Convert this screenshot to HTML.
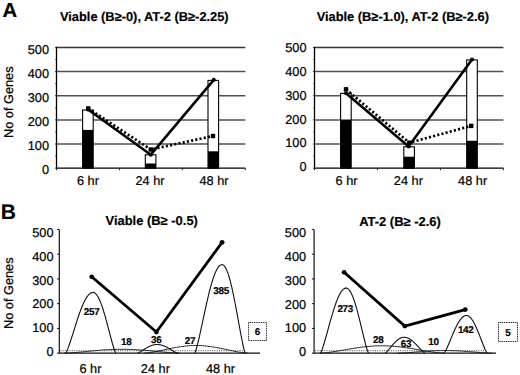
<!DOCTYPE html>
<html><head><meta charset="utf-8"><style>
html,body{margin:0;padding:0;background:#fff;}
svg{display:block;font-family:"Liberation Sans",sans-serif;}
text{fill:#000;stroke:#000;stroke-width:0.22px;text-rendering:geometricPrecision;}
text[font-weight="bold"]{stroke-width:0.18px;}
</style></head><body>
<svg width="520" height="375" viewBox="0 0 520 375">
<rect width="520" height="375" fill="#fff"/>
<line x1="56.50" y1="144.04" x2="245.30" y2="144.04" stroke="#505050" stroke-width="1.5" />
<line x1="56.50" y1="119.88" x2="245.30" y2="119.88" stroke="#505050" stroke-width="1.5" />
<line x1="56.50" y1="95.72" x2="245.30" y2="95.72" stroke="#505050" stroke-width="1.5" />
<line x1="56.50" y1="71.56" x2="245.30" y2="71.56" stroke="#505050" stroke-width="1.5" />
<line x1="56.50" y1="47.40" x2="245.30" y2="47.40" stroke="#333" stroke-width="1.5" />
<text x="49.00" y="173.80" font-size="12.75" text-anchor="end" font-weight="normal" >0</text>
<text x="49.00" y="149.92" font-size="12.75" text-anchor="end" font-weight="normal" >100</text>
<text x="49.00" y="126.04" font-size="12.75" text-anchor="end" font-weight="normal" >200</text>
<text x="49.00" y="102.16" font-size="12.75" text-anchor="end" font-weight="normal" >300</text>
<text x="49.00" y="78.28" font-size="12.75" text-anchor="end" font-weight="normal" >400</text>
<text x="49.00" y="54.40" font-size="12.75" text-anchor="end" font-weight="normal" >500</text>
<line x1="54.90" y1="168.20" x2="56.50" y2="168.20" stroke="#222" stroke-width="0.8" />
<line x1="55.30" y1="156.12" x2="56.50" y2="156.12" stroke="#222" stroke-width="0.8" />
<line x1="54.90" y1="144.04" x2="56.50" y2="144.04" stroke="#222" stroke-width="0.8" />
<line x1="55.30" y1="131.96" x2="56.50" y2="131.96" stroke="#222" stroke-width="0.8" />
<line x1="54.90" y1="119.88" x2="56.50" y2="119.88" stroke="#222" stroke-width="0.8" />
<line x1="55.30" y1="107.80" x2="56.50" y2="107.80" stroke="#222" stroke-width="0.8" />
<line x1="54.90" y1="95.72" x2="56.50" y2="95.72" stroke="#222" stroke-width="0.8" />
<line x1="55.30" y1="83.64" x2="56.50" y2="83.64" stroke="#222" stroke-width="0.8" />
<line x1="54.90" y1="71.56" x2="56.50" y2="71.56" stroke="#222" stroke-width="0.8" />
<line x1="55.30" y1="59.48" x2="56.50" y2="59.48" stroke="#222" stroke-width="0.8" />
<line x1="54.90" y1="47.40" x2="56.50" y2="47.40" stroke="#222" stroke-width="0.8" />
<rect x="82.60" y="110.00" width="10.60" height="58.20" fill="#fff" stroke="#000" stroke-width="1.1" />
<rect x="82.70" y="129.90" width="10.40" height="38.30" fill="#000" stroke="none" stroke-width="1" />
<rect x="145.30" y="154.80" width="10.60" height="13.40" fill="#fff" stroke="#000" stroke-width="1.1" />
<rect x="145.40" y="163.50" width="10.40" height="4.70" fill="#000" stroke="none" stroke-width="1" />
<rect x="208.00" y="80.40" width="10.60" height="87.80" fill="#fff" stroke="#000" stroke-width="1.1" />
<rect x="208.10" y="151.30" width="10.40" height="16.90" fill="#000" stroke="none" stroke-width="1" />
<line x1="56.50" y1="46.80" x2="56.50" y2="168.80" stroke="#000" stroke-width="1.3" />
<line x1="56.50" y1="168.20" x2="245.30" y2="168.20" stroke="#000" stroke-width="1.3" />
<line x1="56.50" y1="168.20" x2="56.50" y2="170.20" stroke="#222" stroke-width="1" />
<line x1="119.43" y1="168.20" x2="119.43" y2="170.20" stroke="#222" stroke-width="1" />
<line x1="182.37" y1="168.20" x2="182.37" y2="170.20" stroke="#222" stroke-width="1" />
<line x1="245.30" y1="168.20" x2="245.30" y2="170.20" stroke="#222" stroke-width="1" />
<polyline points="88.20,108.40 150.80,149.50 213.00,136.00" fill="none" stroke="#000" stroke-width="2.7" stroke-dasharray="2.1 2.2"/>
<rect x="86.00" y="106.20" width="4.40" height="4.40" fill="#000" stroke="none" stroke-width="1" />
<rect x="148.60" y="147.30" width="4.40" height="4.40" fill="#000" stroke="none" stroke-width="1" />
<rect x="210.80" y="133.80" width="4.40" height="4.40" fill="#000" stroke="none" stroke-width="1" />
<polyline points="88.00,109.50 150.80,154.70 213.80,79.80" fill="none" stroke="#000" stroke-width="2.6" stroke-linejoin="round" stroke-linecap="round"/>
<circle cx="88" cy="109.5" r="2.0" fill="#000"/>
<circle cx="150.8" cy="154.7" r="2.0" fill="#000"/>
<circle cx="213.8" cy="79.8" r="2.0" fill="#000"/>
<text x="87.90" y="184.50" font-size="12.75" text-anchor="middle" font-weight="normal" >6 hr</text>
<text x="150.00" y="184.50" font-size="12.75" text-anchor="middle" font-weight="normal" >24 hr</text>
<text x="214.00" y="184.50" font-size="12.75" text-anchor="middle" font-weight="normal" >48 hr</text>
<line x1="314.50" y1="144.04" x2="503.40" y2="144.04" stroke="#505050" stroke-width="1.5" />
<line x1="314.50" y1="119.88" x2="503.40" y2="119.88" stroke="#505050" stroke-width="1.5" />
<line x1="314.50" y1="95.72" x2="503.40" y2="95.72" stroke="#505050" stroke-width="1.5" />
<line x1="314.50" y1="71.56" x2="503.40" y2="71.56" stroke="#505050" stroke-width="1.5" />
<line x1="314.50" y1="47.40" x2="503.40" y2="47.40" stroke="#333" stroke-width="1.5" />
<text x="306.50" y="171.30" font-size="12.75" text-anchor="end" font-weight="normal" >0</text>
<text x="306.50" y="147.46" font-size="12.75" text-anchor="end" font-weight="normal" >100</text>
<text x="306.50" y="123.62" font-size="12.75" text-anchor="end" font-weight="normal" >200</text>
<text x="306.50" y="99.78" font-size="12.75" text-anchor="end" font-weight="normal" >300</text>
<text x="306.50" y="75.94" font-size="12.75" text-anchor="end" font-weight="normal" >400</text>
<text x="306.50" y="52.10" font-size="12.75" text-anchor="end" font-weight="normal" >500</text>
<line x1="312.90" y1="168.20" x2="314.50" y2="168.20" stroke="#222" stroke-width="0.8" />
<line x1="313.30" y1="156.12" x2="314.50" y2="156.12" stroke="#222" stroke-width="0.8" />
<line x1="312.90" y1="144.04" x2="314.50" y2="144.04" stroke="#222" stroke-width="0.8" />
<line x1="313.30" y1="131.96" x2="314.50" y2="131.96" stroke="#222" stroke-width="0.8" />
<line x1="312.90" y1="119.88" x2="314.50" y2="119.88" stroke="#222" stroke-width="0.8" />
<line x1="313.30" y1="107.80" x2="314.50" y2="107.80" stroke="#222" stroke-width="0.8" />
<line x1="312.90" y1="95.72" x2="314.50" y2="95.72" stroke="#222" stroke-width="0.8" />
<line x1="313.30" y1="83.64" x2="314.50" y2="83.64" stroke="#222" stroke-width="0.8" />
<line x1="312.90" y1="71.56" x2="314.50" y2="71.56" stroke="#222" stroke-width="0.8" />
<line x1="313.30" y1="59.48" x2="314.50" y2="59.48" stroke="#222" stroke-width="0.8" />
<line x1="312.90" y1="47.40" x2="314.50" y2="47.40" stroke="#222" stroke-width="0.8" />
<rect x="340.60" y="93.40" width="10.60" height="74.80" fill="#fff" stroke="#000" stroke-width="1.1" />
<rect x="340.70" y="119.50" width="10.40" height="48.70" fill="#000" stroke="none" stroke-width="1" />
<rect x="403.80" y="146.80" width="10.60" height="21.40" fill="#fff" stroke="#000" stroke-width="1.1" />
<rect x="403.90" y="156.70" width="10.40" height="11.50" fill="#000" stroke="none" stroke-width="1" />
<rect x="466.70" y="59.90" width="10.60" height="108.30" fill="#fff" stroke="#000" stroke-width="1.1" />
<rect x="466.80" y="140.80" width="10.40" height="27.40" fill="#000" stroke="none" stroke-width="1" />
<line x1="314.50" y1="46.80" x2="314.50" y2="168.80" stroke="#000" stroke-width="1.3" />
<line x1="314.50" y1="168.20" x2="503.40" y2="168.20" stroke="#000" stroke-width="1.3" />
<line x1="314.50" y1="168.20" x2="314.50" y2="170.20" stroke="#222" stroke-width="1" />
<line x1="377.47" y1="168.20" x2="377.47" y2="170.20" stroke="#222" stroke-width="1" />
<line x1="440.43" y1="168.20" x2="440.43" y2="170.20" stroke="#222" stroke-width="1" />
<line x1="503.40" y1="168.20" x2="503.40" y2="170.20" stroke="#222" stroke-width="1" />
<polyline points="346.00,89.30 409.30,142.70 471.20,125.90" fill="none" stroke="#000" stroke-width="2.7" stroke-dasharray="2.1 2.2"/>
<rect x="343.80" y="87.10" width="4.40" height="4.40" fill="#000" stroke="none" stroke-width="1" />
<rect x="407.10" y="140.50" width="4.40" height="4.40" fill="#000" stroke="none" stroke-width="1" />
<rect x="469.00" y="123.70" width="4.40" height="4.40" fill="#000" stroke="none" stroke-width="1" />
<polyline points="346.00,93.30 408.60,146.40 472.00,59.50" fill="none" stroke="#000" stroke-width="2.6" stroke-linejoin="round" stroke-linecap="round"/>
<circle cx="346" cy="93.3" r="2.0" fill="#000"/>
<circle cx="408.6" cy="146.4" r="2.0" fill="#000"/>
<circle cx="472" cy="59.5" r="2.0" fill="#000"/>
<text x="346.50" y="184.50" font-size="12.75" text-anchor="middle" font-weight="normal" >6 hr</text>
<text x="408.40" y="184.50" font-size="12.75" text-anchor="middle" font-weight="normal" >24 hr</text>
<text x="472.60" y="184.50" font-size="12.75" text-anchor="middle" font-weight="normal" >48 hr</text>
<text x="144.30" y="21.00" font-size="12.85" text-anchor="middle" font-weight="bold" >Viable (B&#8805;-0), AT-2 (B&#8805;-2.25)</text>
<text x="402.80" y="20.80" font-size="12.85" text-anchor="middle" font-weight="bold" >Viable (B&#8805;-1.0), AT-2 (B&#8805;-2.6)</text>
<text x="2.40" y="17.00" font-size="20.3" text-anchor="start" font-weight="bold" >A</text>
<text x="0.00" y="0.00" font-size="12.75" text-anchor="middle" font-weight="normal" transform="translate(12.6,102.2) rotate(-90)">No of Genes</text>
<line x1="59.30" y1="229.45" x2="59.30" y2="353.65" stroke="#111" stroke-width="1.2" />
<line x1="57.10" y1="353.15" x2="59.30" y2="353.15" stroke="#111" stroke-width="1" />
<line x1="57.10" y1="328.41" x2="59.30" y2="328.41" stroke="#111" stroke-width="1" />
<line x1="57.10" y1="303.67" x2="59.30" y2="303.67" stroke="#111" stroke-width="1" />
<line x1="57.10" y1="278.93" x2="59.30" y2="278.93" stroke="#111" stroke-width="1" />
<line x1="57.10" y1="254.19" x2="59.30" y2="254.19" stroke="#111" stroke-width="1" />
<line x1="57.10" y1="229.45" x2="59.30" y2="229.45" stroke="#111" stroke-width="1" />
<text x="53.50" y="356.00" font-size="12.75" text-anchor="end" font-weight="normal" >0</text>
<text x="53.50" y="332.18" font-size="12.75" text-anchor="end" font-weight="normal" >100</text>
<text x="53.50" y="308.36" font-size="12.75" text-anchor="end" font-weight="normal" >200</text>
<text x="53.50" y="284.54" font-size="12.75" text-anchor="end" font-weight="normal" >300</text>
<text x="53.50" y="260.72" font-size="12.75" text-anchor="end" font-weight="normal" >400</text>
<text x="53.50" y="236.90" font-size="12.75" text-anchor="end" font-weight="normal" >500</text>
<line x1="60.30" y1="350.70" x2="243.00" y2="350.70" stroke="#333" stroke-width="0.9" stroke-dasharray="1 1.3"/>
<polyline points="64.00,353.15 65.45,353.12 66.90,353.07 68.35,352.99 69.80,352.91 71.25,352.82 72.70,352.72 74.15,352.61 75.60,352.49 77.05,352.37 78.50,352.24 79.95,352.11 81.40,351.97 82.85,351.84 84.30,351.70 85.75,351.56 87.20,351.42 88.65,351.27 90.10,351.13 91.55,351.00 93.00,350.86 94.45,350.73 95.90,350.60 97.35,350.47 98.80,350.35 100.25,350.23 101.70,350.12 103.15,350.01 104.60,349.91 106.05,349.82 107.50,349.73 108.95,349.65 110.40,349.58 111.85,349.51 113.30,349.46 114.75,349.41 116.20,349.37 117.65,349.34 119.10,349.32 120.55,349.30 122.00,349.30 123.45,349.30 124.90,349.32 126.35,349.34 127.80,349.37 129.25,349.41 130.70,349.46 132.15,349.51 133.60,349.58 135.05,349.65 136.50,349.73 137.95,349.82 139.40,349.91 140.85,350.01 142.30,350.12 143.75,350.23 145.20,350.35 146.65,350.47 148.10,350.60 149.55,350.73 151.00,350.86 152.45,351.00 153.90,351.13 155.35,351.27 156.80,351.42 158.25,351.56 159.70,351.70 161.15,351.84 162.60,351.97 164.05,352.11 165.50,352.24 166.95,352.37 168.40,352.49 169.85,352.61 171.30,352.72 172.75,352.82 174.20,352.91 175.65,352.99 177.10,353.07 178.55,353.12 180.00,353.15" fill="none" stroke="#222" stroke-width="1" />
<polyline points="144.00,353.15 145.30,353.09 146.60,352.98 147.90,352.84 149.20,352.68 150.50,352.49 151.80,352.29 153.10,352.07 154.40,351.84 155.70,351.59 157.00,351.34 158.30,351.08 159.60,350.81 160.90,350.54 162.20,350.26 163.50,349.98 164.80,349.70 166.10,349.42 167.40,349.15 168.70,348.87 170.00,348.60 171.30,348.34 172.60,348.08 173.90,347.83 175.20,347.58 176.50,347.35 177.80,347.13 179.10,346.92 180.40,346.72 181.70,346.53 183.00,346.36 184.30,346.20 185.60,346.05 186.90,345.93 188.20,345.81 189.50,345.72 190.80,345.64 192.10,345.58 193.40,345.54 194.70,345.51 196.00,345.50 197.30,345.51 198.60,345.54 199.90,345.58 201.20,345.64 202.50,345.72 203.80,345.81 205.10,345.93 206.40,346.05 207.70,346.20 209.00,346.36 210.30,346.53 211.60,346.72 212.90,346.92 214.20,347.13 215.50,347.35 216.80,347.58 218.10,347.83 219.40,348.08 220.70,348.34 222.00,348.60 223.30,348.87 224.60,349.15 225.90,349.42 227.20,349.70 228.50,349.98 229.80,350.26 231.10,350.54 232.40,350.81 233.70,351.08 235.00,351.34 236.30,351.59 237.60,351.84 238.90,352.07 240.20,352.29 241.50,352.49 242.80,352.68 244.10,352.84 245.40,352.98 246.70,353.09 248.00,353.15" fill="none" stroke="#222" stroke-width="1" />
<line x1="59.30" y1="353.15" x2="260.00" y2="353.15" stroke="#111" stroke-width="1.2" />
<polyline points="65.70,353.15 66.38,352.09 67.06,350.63 67.75,348.97 68.43,347.17 69.11,345.27 69.80,343.29 70.48,341.25 71.16,339.15 71.84,337.02 72.53,334.86 73.21,332.69 73.89,330.51 74.57,328.33 75.25,326.16 75.94,324.01 76.62,321.88 77.30,319.79 77.98,317.73 78.67,315.72 79.35,313.76 80.03,311.85 80.72,310.01 81.40,308.24 82.08,306.54 82.76,304.92 83.44,303.38 84.13,301.92 84.81,300.56 85.49,299.29 86.17,298.12 86.86,297.06 87.54,296.09 88.22,295.24 88.91,294.49 89.59,293.86 90.27,293.33 90.95,292.93 91.64,292.63 92.32,292.46 93.00,292.40 93.57,292.46 94.14,292.63 94.71,292.93 95.28,293.33 95.85,293.86 96.42,294.49 96.99,295.24 97.56,296.09 98.13,297.06 98.70,298.12 99.27,299.29 99.84,300.56 100.41,301.92 100.98,303.38 101.55,304.92 102.12,306.54 102.69,308.24 103.26,310.01 103.83,311.85 104.40,313.76 104.97,315.72 105.54,317.73 106.11,319.79 106.68,321.88 107.25,324.01 107.82,326.16 108.39,328.33 108.96,330.51 109.53,332.69 110.10,334.86 110.67,337.02 111.24,339.15 111.81,341.25 112.38,343.29 112.95,345.27 113.52,347.17 114.09,348.97 114.66,350.63 115.23,352.09 115.80,353.15" fill="none" stroke="#111" stroke-width="1.1" />
<polyline points="137.50,353.15 137.99,353.00 138.47,352.79 138.96,352.55 139.45,352.30 139.94,352.03 140.43,351.75 140.91,351.46 141.40,351.16 141.89,350.85 142.38,350.55 142.86,350.24 143.35,349.93 143.84,349.62 144.32,349.31 144.81,349.00 145.30,348.70 145.79,348.40 146.28,348.11 146.76,347.82 147.25,347.54 147.74,347.27 148.22,347.01 148.71,346.76 149.20,346.51 149.69,346.28 150.18,346.06 150.66,345.86 151.15,345.66 151.64,345.48 152.12,345.32 152.61,345.16 153.10,345.03 153.59,344.90 154.07,344.80 154.56,344.71 155.05,344.63 155.54,344.57 156.03,344.53 156.51,344.51 157.00,344.50 157.51,344.51 158.03,344.53 158.54,344.57 159.05,344.63 159.56,344.71 160.07,344.80 160.59,344.90 161.10,345.03 161.61,345.16 162.12,345.32 162.64,345.48 163.15,345.66 163.66,345.86 164.18,346.06 164.69,346.28 165.20,346.51 165.71,346.76 166.22,347.01 166.74,347.27 167.25,347.54 167.76,347.82 168.28,348.11 168.79,348.40 169.30,348.70 169.81,349.00 170.32,349.31 170.84,349.62 171.35,349.93 171.86,350.24 172.38,350.55 172.89,350.85 173.40,351.16 173.91,351.46 174.43,351.75 174.94,352.03 175.45,352.30 175.96,352.55 176.47,352.79 176.99,353.00 177.50,353.15" fill="none" stroke="#111" stroke-width="1.1" />
<polyline points="194.80,353.15 195.48,351.60 196.16,349.47 196.84,347.06 197.52,344.44 198.20,341.67 198.88,338.78 199.56,335.80 200.24,332.75 200.92,329.64 201.60,326.50 202.28,323.33 202.96,320.15 203.64,316.98 204.32,313.81 205.00,310.68 205.68,307.58 206.36,304.52 207.04,301.52 207.72,298.59 208.40,295.73 209.08,292.96 209.76,290.27 210.44,287.69 211.12,285.21 211.80,282.84 212.48,280.60 213.16,278.48 213.84,276.50 214.52,274.65 215.20,272.94 215.88,271.39 216.56,269.98 217.24,268.74 217.92,267.65 218.60,266.72 219.28,265.96 219.96,265.37 220.64,264.94 221.32,264.69 222.00,264.60 222.58,264.69 223.16,264.94 223.74,265.37 224.32,265.96 224.90,266.72 225.48,267.65 226.06,268.74 226.64,269.98 227.22,271.39 227.80,272.94 228.38,274.65 228.96,276.50 229.54,278.48 230.12,280.60 230.70,282.84 231.28,285.21 231.86,287.69 232.44,290.27 233.02,292.96 233.60,295.73 234.18,298.59 234.76,301.52 235.34,304.52 235.92,307.58 236.50,310.68 237.08,313.81 237.66,316.98 238.24,320.15 238.82,323.33 239.40,326.50 239.98,329.64 240.56,332.75 241.14,335.80 241.72,338.78 242.30,341.67 242.88,344.44 243.46,347.06 244.04,349.47 244.62,351.60 245.20,353.15" fill="none" stroke="#111" stroke-width="1.1" />
<polyline points="91.70,276.80 156.40,332.00 222.10,242.30" fill="none" stroke="#000" stroke-width="2.8" stroke-linejoin="round"/>
<circle cx="91.7" cy="276.8" r="2.4" fill="#000"/>
<circle cx="156.4" cy="332.0" r="2.4" fill="#000"/>
<circle cx="222.1" cy="242.3" r="2.4" fill="#000"/>
<text x="91.60" y="315.30" font-size="9.9" text-anchor="middle" font-weight="bold" letter-spacing="-0.3">257</text>
<text x="126.30" y="345.20" font-size="9.9" text-anchor="middle" font-weight="bold" letter-spacing="-0.3">18</text>
<text x="156.30" y="342.60" font-size="9.9" text-anchor="middle" font-weight="bold" letter-spacing="-0.3">36</text>
<text x="189.90" y="343.50" font-size="9.9" text-anchor="middle" font-weight="bold" letter-spacing="-0.3">27</text>
<text x="221.10" y="293.80" font-size="9.9" text-anchor="middle" font-weight="bold" letter-spacing="-0.3">385</text>
<rect x="248.50" y="322.50" width="18.00" height="18.00" fill="#fff" stroke="#111" stroke-width="1" stroke-dasharray="1 0.8"/>
<text x="257.50" y="335.40" font-size="9.9" text-anchor="middle" font-weight="bold" >6</text>
<text x="90.40" y="372.70" font-size="12.75" text-anchor="middle" font-weight="normal" >6 hr</text>
<text x="155.40" y="372.70" font-size="12.75" text-anchor="middle" font-weight="normal" >24 hr</text>
<text x="220.50" y="372.70" font-size="12.75" text-anchor="middle" font-weight="normal" >48 hr</text>
<line x1="314.10" y1="229.45" x2="314.10" y2="353.65" stroke="#111" stroke-width="1.2" />
<line x1="311.90" y1="353.15" x2="314.10" y2="353.15" stroke="#111" stroke-width="1" />
<line x1="311.90" y1="328.41" x2="314.10" y2="328.41" stroke="#111" stroke-width="1" />
<line x1="311.90" y1="303.67" x2="314.10" y2="303.67" stroke="#111" stroke-width="1" />
<line x1="311.90" y1="278.93" x2="314.10" y2="278.93" stroke="#111" stroke-width="1" />
<line x1="311.90" y1="254.19" x2="314.10" y2="254.19" stroke="#111" stroke-width="1" />
<line x1="311.90" y1="229.45" x2="314.10" y2="229.45" stroke="#111" stroke-width="1" />
<text x="306.10" y="356.30" font-size="12.75" text-anchor="end" font-weight="normal" >0</text>
<text x="306.10" y="332.42" font-size="12.75" text-anchor="end" font-weight="normal" >100</text>
<text x="306.10" y="308.54" font-size="12.75" text-anchor="end" font-weight="normal" >200</text>
<text x="306.10" y="284.66" font-size="12.75" text-anchor="end" font-weight="normal" >300</text>
<text x="306.10" y="260.78" font-size="12.75" text-anchor="end" font-weight="normal" >400</text>
<text x="306.10" y="236.90" font-size="12.75" text-anchor="end" font-weight="normal" >500</text>
<line x1="315.10" y1="350.70" x2="486.00" y2="350.70" stroke="#333" stroke-width="0.9" stroke-dasharray="1 1.3"/>
<polyline points="320.00,353.15 321.55,353.09 323.10,352.99 324.65,352.85 326.20,352.70 327.75,352.52 329.30,352.32 330.85,352.11 332.40,351.89 333.95,351.65 335.50,351.41 337.05,351.16 338.60,350.90 340.15,350.64 341.70,350.37 343.25,350.11 344.80,349.84 346.35,349.57 347.90,349.30 349.45,349.04 351.00,348.78 352.55,348.52 354.10,348.28 355.65,348.03 357.20,347.80 358.75,347.58 360.30,347.36 361.85,347.16 363.40,346.97 364.95,346.79 366.50,346.62 368.05,346.47 369.60,346.33 371.15,346.21 372.70,346.10 374.25,346.01 375.80,345.94 377.35,345.88 378.90,345.83 380.45,345.81 382.00,345.80 383.55,345.81 385.10,345.83 386.65,345.88 388.20,345.94 389.75,346.01 391.30,346.10 392.85,346.21 394.40,346.33 395.95,346.47 397.50,346.62 399.05,346.79 400.60,346.97 402.15,347.16 403.70,347.36 405.25,347.58 406.80,347.80 408.35,348.03 409.90,348.28 411.45,348.52 413.00,348.78 414.55,349.04 416.10,349.30 417.65,349.57 419.20,349.84 420.75,350.11 422.30,350.37 423.85,350.64 425.40,350.90 426.95,351.16 428.50,351.41 430.05,351.65 431.60,351.89 433.15,352.11 434.70,352.32 436.25,352.52 437.80,352.70 439.35,352.85 440.90,352.99 442.45,353.09 444.00,353.15" fill="none" stroke="#222" stroke-width="1" />
<polyline points="398.00,353.15 399.18,353.13 400.35,353.09 401.52,353.04 402.70,352.99 403.88,352.92 405.05,352.85 406.23,352.78 407.40,352.69 408.57,352.61 409.75,352.52 410.93,352.43 412.10,352.34 413.27,352.24 414.45,352.15 415.62,352.05 416.80,351.96 417.98,351.86 419.15,351.76 420.32,351.67 421.50,351.57 422.68,351.48 423.85,351.39 425.02,351.31 426.20,351.22 427.38,351.14 428.55,351.06 429.73,350.99 430.90,350.92 432.07,350.86 433.25,350.80 434.43,350.74 435.60,350.69 436.77,350.65 437.95,350.61 439.12,350.58 440.30,350.55 441.48,350.53 442.65,350.51 443.82,350.50 445.00,350.50 446.18,350.50 447.35,350.51 448.52,350.53 449.70,350.55 450.88,350.58 452.05,350.61 453.23,350.65 454.40,350.69 455.57,350.74 456.75,350.80 457.93,350.86 459.10,350.92 460.27,350.99 461.45,351.06 462.62,351.14 463.80,351.22 464.98,351.31 466.15,351.39 467.32,351.48 468.50,351.57 469.68,351.67 470.85,351.76 472.02,351.86 473.20,351.96 474.38,352.05 475.55,352.15 476.73,352.24 477.90,352.34 479.07,352.43 480.25,352.52 481.43,352.61 482.60,352.69 483.77,352.78 484.95,352.85 486.12,352.92 487.30,352.99 488.48,353.04 489.65,353.09 490.82,353.13 492.00,353.15" fill="none" stroke="#222" stroke-width="1" />
<line x1="314.10" y1="353.15" x2="496.00" y2="353.15" stroke="#111" stroke-width="1.2" />
<polyline points="320.50,353.15 321.14,352.01 321.78,350.45 322.42,348.67 323.06,346.75 323.70,344.72 324.34,342.59 324.98,340.40 325.62,338.16 326.26,335.88 326.90,333.57 327.54,331.24 328.18,328.91 328.82,326.58 329.46,324.25 330.10,321.95 330.74,319.67 331.38,317.43 332.02,315.22 332.66,313.07 333.30,310.97 333.94,308.93 334.58,306.96 335.22,305.06 335.86,303.24 336.50,301.50 337.14,299.85 337.78,298.30 338.42,296.84 339.06,295.48 339.70,294.23 340.34,293.09 340.98,292.06 341.62,291.14 342.26,290.34 342.90,289.66 343.54,289.10 344.18,288.66 344.82,288.35 345.46,288.16 346.10,288.10 346.66,288.16 347.22,288.35 347.78,288.66 348.34,289.10 348.90,289.66 349.46,290.34 350.02,291.14 350.58,292.06 351.14,293.09 351.70,294.23 352.26,295.48 352.82,296.84 353.38,298.30 353.94,299.85 354.50,301.50 355.06,303.24 355.62,305.06 356.18,306.96 356.74,308.93 357.30,310.97 357.86,313.07 358.42,315.22 358.98,317.43 359.54,319.67 360.10,321.95 360.66,324.25 361.22,326.58 361.78,328.91 362.34,331.24 362.90,333.57 363.46,335.88 364.02,338.16 364.58,340.40 365.14,342.59 365.70,344.72 366.26,346.75 366.82,348.67 367.38,350.45 367.94,352.01 368.50,353.15" fill="none" stroke="#111" stroke-width="1.1" />
<polyline points="385.00,353.15 385.48,352.87 385.95,352.49 386.43,352.06 386.90,351.59 387.38,351.09 387.85,350.58 388.32,350.04 388.80,349.50 389.27,348.94 389.75,348.38 390.23,347.81 390.70,347.24 391.18,346.67 391.65,346.11 392.12,345.55 392.60,344.99 393.07,344.45 393.55,343.91 394.02,343.38 394.50,342.87 394.98,342.38 395.45,341.90 395.93,341.43 396.40,340.99 396.88,340.57 397.35,340.16 397.82,339.78 398.30,339.43 398.77,339.10 399.25,338.79 399.73,338.51 400.20,338.26 400.68,338.04 401.15,337.85 401.62,337.68 402.10,337.54 402.57,337.44 403.05,337.36 403.52,337.32 404.00,337.30 404.52,337.32 405.05,337.36 405.57,337.44 406.10,337.54 406.62,337.68 407.15,337.85 407.68,338.04 408.20,338.26 408.73,338.51 409.25,338.79 409.77,339.10 410.30,339.43 410.82,339.78 411.35,340.16 411.88,340.57 412.40,340.99 412.93,341.43 413.45,341.90 413.98,342.38 414.50,342.87 415.02,343.38 415.55,343.91 416.07,344.45 416.60,344.99 417.12,345.55 417.65,346.11 418.18,346.67 418.70,347.24 419.23,347.81 419.75,348.38 420.27,348.94 420.80,349.50 421.32,350.04 421.85,350.58 422.38,351.09 422.90,351.59 423.43,352.06 423.95,352.49 424.48,352.87 425.00,353.15" fill="none" stroke="#111" stroke-width="1.1" />
<polyline points="444.00,353.15 444.56,352.49 445.12,351.59 445.68,350.56 446.24,349.45 446.80,348.27 447.36,347.04 447.92,345.77 448.48,344.48 449.04,343.15 449.60,341.82 450.16,340.47 450.72,339.12 451.28,337.77 451.84,336.42 452.40,335.09 452.96,333.77 453.52,332.47 454.08,331.20 454.64,329.95 455.20,328.74 455.76,327.56 456.32,326.42 456.88,325.32 457.44,324.26 458.00,323.26 458.56,322.30 459.12,321.40 459.68,320.56 460.24,319.77 460.80,319.05 461.36,318.39 461.92,317.79 462.48,317.26 463.04,316.80 463.60,316.40 464.16,316.08 464.72,315.83 465.28,315.65 465.84,315.54 466.40,315.50 466.92,315.54 467.44,315.65 467.96,315.83 468.48,316.08 469.00,316.40 469.52,316.80 470.04,317.26 470.56,317.79 471.08,318.39 471.60,319.05 472.12,319.77 472.64,320.56 473.16,321.40 473.68,322.30 474.20,323.26 474.72,324.26 475.24,325.32 475.76,326.42 476.28,327.56 476.80,328.74 477.32,329.95 477.84,331.20 478.36,332.47 478.88,333.77 479.40,335.09 479.92,336.42 480.44,337.77 480.96,339.12 481.48,340.47 482.00,341.82 482.52,343.15 483.04,344.48 483.56,345.77 484.08,347.04 484.60,348.27 485.12,349.45 485.64,350.56 486.16,351.59 486.68,352.49 487.20,353.15" fill="none" stroke="#111" stroke-width="1.1" />
<polyline points="344.10,272.30 404.80,326.10 465.30,309.60" fill="none" stroke="#000" stroke-width="2.8" stroke-linejoin="round"/>
<circle cx="344.1" cy="272.3" r="2.4" fill="#000"/>
<circle cx="404.8" cy="326.1" r="2.4" fill="#000"/>
<circle cx="465.3" cy="309.6" r="2.4" fill="#000"/>
<text x="345.20" y="311.80" font-size="9.9" text-anchor="middle" font-weight="bold" letter-spacing="-0.3">273</text>
<text x="378.20" y="342.70" font-size="9.9" text-anchor="middle" font-weight="bold" letter-spacing="-0.3">28</text>
<text x="405.90" y="346.50" font-size="9.9" text-anchor="middle" font-weight="bold" letter-spacing="-0.3">63</text>
<text x="433.40" y="345.00" font-size="9.9" text-anchor="middle" font-weight="bold" letter-spacing="-0.3">10</text>
<text x="465.70" y="333.10" font-size="9.9" text-anchor="middle" font-weight="bold" letter-spacing="-0.3">142</text>
<rect x="498.50" y="322.50" width="19.00" height="19.00" fill="#fff" stroke="#111" stroke-width="1" stroke-dasharray="1 0.8"/>
<text x="508.00" y="335.90" font-size="9.9" text-anchor="middle" font-weight="bold" >5</text>
<text x="151.70" y="224.90" font-size="12.95" text-anchor="middle" font-weight="bold" >Viable (B&#8805; -0.5)</text>
<text x="400.00" y="225.90" font-size="12.95" text-anchor="middle" font-weight="bold" >AT-2 (B&#8805; -2.6)</text>
<text x="0.70" y="218.60" font-size="21" text-anchor="start" font-weight="bold" >B</text>
<text x="0.00" y="0.00" font-size="12.75" text-anchor="middle" font-weight="normal" transform="translate(12.6,293.2) rotate(-90)">No of Genes</text>
</svg></body></html>
